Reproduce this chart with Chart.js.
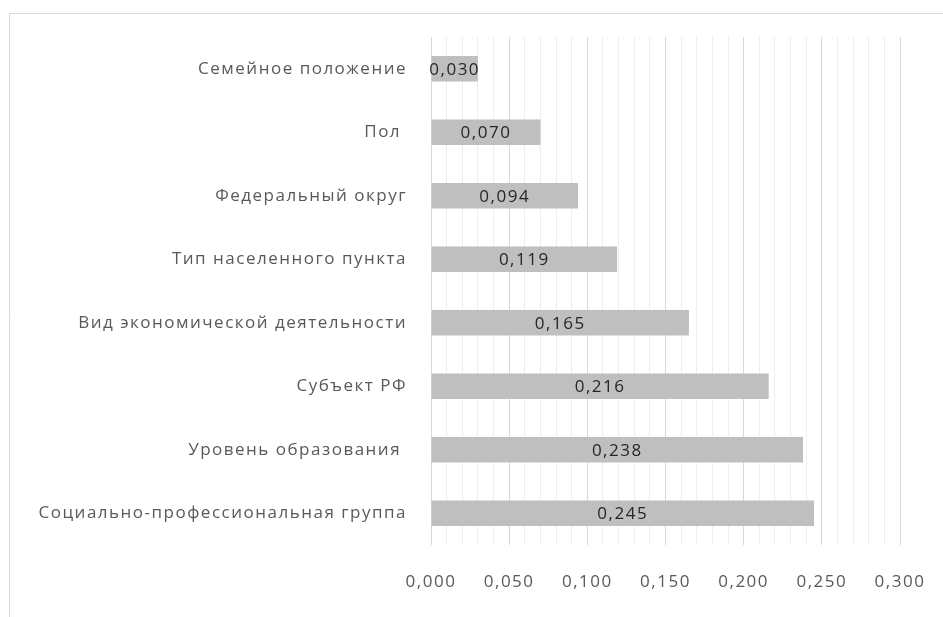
<!DOCTYPE html>
<html>
<head>
<meta charset="utf-8">
<script src="https://cdn.jsdelivr.net/npm/chart.js@4"></script>
<style>
html,body{margin:0;padding:0;background:#fff;}
#wrap{position:relative;width:943px;height:617px;}
</style>
</head>
<body>
<div id="wrap"><canvas id="c" width="943" height="617"></canvas></div>
<script>
const categories = [
  "Семейное положение",
  "Пол ",
  "Федеральный округ",
  "Тип населенного пункта",
  "Вид экономической деятельности",
  "Субъект РФ",
  "Уровень образования ",
  "Социально-профессиональная группа"
];
const values = [0.030, 0.070, 0.094, 0.119, 0.165, 0.216, 0.238, 0.245];
const axisMin = 0;
const axisMax = 0.3;
const majorStep = 0.05;
const minorStep = 0.01;

const FONT = "'Open Sans', sans-serif";
const SPACING = '1.5px';
const fmt = v => v.toFixed(3).replace('.', ',');

const framePlugin = {
  id: 'frame',
  beforeDraw(chart) {
    const ctx = chart.ctx;
    ctx.save();
    ctx.fillStyle = '#fff';
    ctx.fillRect(0, 0, chart.width, chart.height);
    ctx.strokeStyle = '#d9d9d9';
    ctx.lineWidth = 1;
    ctx.beginPath();
    ctx.moveTo(9.5, chart.height);
    ctx.lineTo(9.5, 13.5);
    ctx.lineTo(chart.width, 13.5);
    ctx.stroke();
    ctx.restore();
    ctx.letterSpacing = SPACING;
  },
  beforeInit(chart) { chart.ctx.letterSpacing = SPACING; }
};

const valueLabels = {
  id: 'valueLabels',
  afterDatasetsDraw(chart) {
    const ctx = chart.ctx;
    const meta = chart.getDatasetMeta(0);
    ctx.save();
    ctx.letterSpacing = SPACING;
    ctx.font = "17px " + FONT;
    ctx.fillStyle = '#262626';
    ctx.textAlign = 'center';
    ctx.textBaseline = 'middle';
    meta.data.forEach((bar, i) => {
      const x = (bar.x + bar.base) / 2;
      ctx.fillText(fmt(values[i]), x, bar.y + 1);
    });
    ctx.restore();
  }
};

new Chart(document.getElementById('c'), {
  type: 'bar',
  data: {
    labels: categories,
    datasets: [{
      data: values,
      backgroundColor: '#bfbfbf',
      borderWidth: 0,
      barPercentage: 0.40,
      categoryPercentage: 1
    }]
  },
  options: {
    indexAxis: 'y',
    responsive: false,
    animation: false,
    plugins: { legend: { display: false }, tooltip: { enabled: false } },
    layout: { padding: { top: 37, right: 43, left: 0, bottom: 0 } },
    scales: {
      x: {
        min: axisMin,
        max: axisMax,
        afterBuildTicks(scale) {
          const t = [];
          const n = Math.round((axisMax - axisMin) / minorStep);
          for (let i = 0; i <= n; i++) t.push({ value: +(axisMin + i * minorStep).toFixed(3) });
          scale.ticks = t;
        },
        afterFit(scale) {
          scale.height = 617 - 545;
          scale.paddingLeft = 0;
          scale.paddingRight = 0;
        },
        ticks: {
          autoSkip: false,
          maxRotation: 0,
          padding: 27,
          color: '#595959',
          font: { family: FONT, size: 17 },
          callback(v) {
            const r = Math.round(v / minorStep);
            return r % Math.round(majorStep / minorStep) === 0 ? fmt(v) : '';
          }
        },
        grid: {
          drawTicks: false,
          color(ctx) {
            const r = Math.round(ctx.tick.value / minorStep);
            return r % 5 === 0 ? '#d9d9d9' : '#eeeeee';
          }
        },
        border: { display: false }
      },
      y: {
        afterFit(scale) { scale.width = 431; },
        ticks: {
          padding: 24,
          color: '#595959',
          font: { family: FONT, size: 17 }
        },
        grid: { display: false, drawTicks: false },
        border: { display: false }
      }
    }
  },
  plugins: [framePlugin, valueLabels]
});
</script>
</body>
</html>
